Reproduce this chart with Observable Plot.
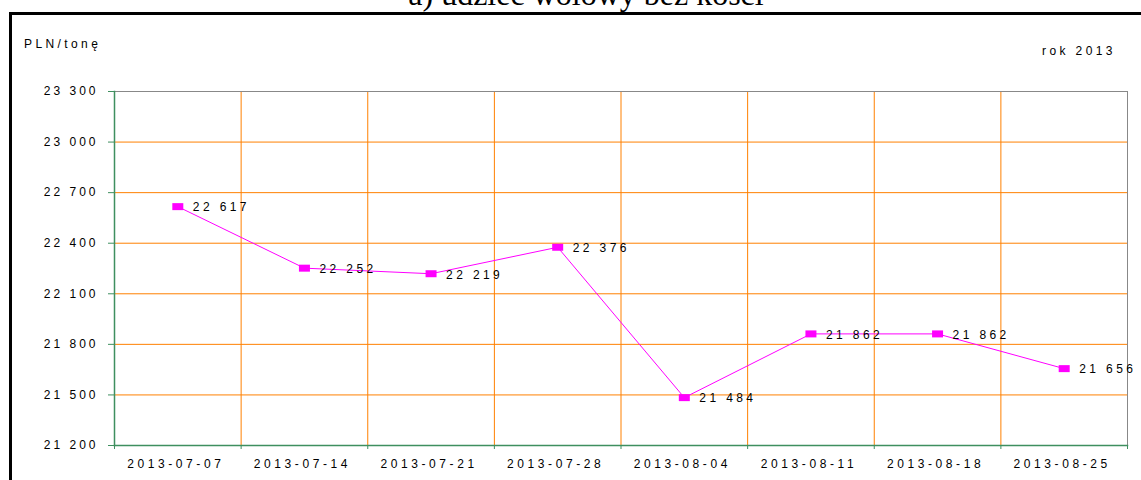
<!DOCTYPE html>
<html>
<head>
<meta charset="utf-8">
<script src="https://cdn.jsdelivr.net/npm/d3@7"></script>
<script src="https://cdn.jsdelivr.net/npm/@observablehq/plot@0.6"></script>
<style>
  html, body { margin: 0; padding: 0; background: #fff; overflow: hidden; }
  #wrap { position: relative; width: 1141px; height: 480px; }
  #border { position: absolute; left: 9px; top: 12px; width: 1150px; height: 500px; border: 3px solid #000; box-sizing: border-box; }
  #title { position: absolute; left: 0; width: 1172px; top: -24px; text-align: center; font-family: "Liberation Serif", "Times New Roman", serif; font-size: 32px; color: #000; white-space: nowrap; }
  .lbl { position: absolute; font-family: "Liberation Sans", Arial, sans-serif; font-size: 12px; letter-spacing: 3.4px; color: #000; white-space: nowrap; line-height: 14px; }
  #unit { left: 24px; top: 37px; }
  #year { left: 1042px; top: 44px; }
  #chart { position: absolute; left: 0; top: 0; }
  #chart svg text { letter-spacing: 3px; }
  #chart svg .xax text { letter-spacing: 3.6px; }
  #chart svg .vals text { letter-spacing: 3.4px; }
</style>
</head>
<body>
<div id="wrap">
  <div id="title">a) udziec wołowy bez kości</div>
  <div id="border"></div>
  <div class="lbl" id="unit">PLN/tonę</div>
  <div class="lbl" id="year">rok 2013</div>
  <div id="chart"></div>
</div>
<script>
const dates = ["2013-07-07","2013-07-14","2013-07-21","2013-07-28","2013-08-04","2013-08-11","2013-08-18","2013-08-25"];
const prices = [22617, 22252, 22219, 22376, 21484, 21862, 21862, 21656];
const yTicks = [21200, 21500, 21800, 22100, 22400, 22700, 23000, 23300];

const data = dates.map((d, i) => ({date: d, price: prices[i]}));
const fmt = v => d3.format(",")(v).replace(/,/g, " ");
const ORANGE = "#FF8000";
const GREEN = "#3F8F5F";
const MAGENTA = "#FF00FF";
const rectSymbol = { draw(ctx) { ctx.rect(-5.5, -3.5, 11, 7); } };

const W = 1141, ML = 114, MR = 14;
const halfBand = (W - ML - MR) / dates.length / 2;

const plot = Plot.plot({
  width: W,
  height: 480,
  marginLeft: ML,
  marginRight: MR,
  marginTop: 91,
  marginBottom: 35,
  style: { fontFamily: "'Liberation Sans', Arial, sans-serif", fontSize: "12px", background: "transparent", overflow: "visible" },
  x: { type: "band", domain: dates, padding: 0, round: false },
  y: { domain: [21200, 23300] },
  marks: [
    Plot.gridY(yTicks, { stroke: ORANGE, strokeOpacity: 1, strokeWidth: 1 }),
    Plot.ruleX(dates, { x: d => d, dx: -halfBand, stroke: ORANGE, strokeWidth: 1 }),
    Plot.frame({ stroke: "#888", strokeWidth: 1 }),
    Plot.frame({ anchor: "bottom", stroke: GREEN, strokeWidth: 1.5 }),
    Plot.frame({ anchor: "left", stroke: GREEN, strokeWidth: 1.5 }),
    Plot.axisY(yTicks, { tickFormat: fmt, tickSize: 6, tickPadding: 10, stroke: GREEN, fill: "#000", label: null, fontSize: 12 }),
    Plot.axisX({ tickSize: 0, tickPadding: 14, label: null, fontSize: 12, dx: -2, className: "xax" }),
    Plot.ruleX(dates, { x: d => d, dx: -halfBand, y1: 21200, y2: 21200, stroke: GREEN, insetBottom: -4 }),
    Plot.ruleX([dates[dates.length - 1]], { x: d => d, dx: halfBand, y1: 21200, y2: 21200, stroke: GREEN, insetBottom: -4 }),
    Plot.line(data, { x: "date", y: "price", stroke: MAGENTA, strokeWidth: 1 }),
    Plot.dot(data, { x: "date", y: "price", symbol: rectSymbol, fill: MAGENTA, stroke: "none", r: 5 }),
    Plot.text(data, { x: "date", y: "price", text: d => fmt(d.price), textAnchor: "start", dx: 15, dy: 1, fill: "#000", fontSize: 12, className: "vals" })
  ]
});
document.getElementById("chart").appendChild(plot);
</script>
</body>
</html>
